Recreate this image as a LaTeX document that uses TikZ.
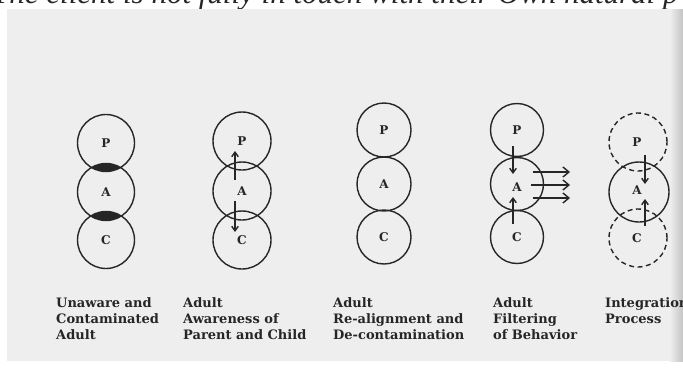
\documentclass[tikz,border=0pt]{standalone}
\usepackage{fontspec}
\setmainfont{DejaVu Serif}
\newfontfamily\topfont{Liberation Serif}
\usetikzlibrary{arrows.meta}
\definecolor{ink}{HTML}{262626}
\definecolor{paper}{HTML}{EEEEEE}
\definecolor{edge}{HTML}{C4C4C4}
\begin{document}
\begin{tikzpicture}[x=1pt,y=-1pt,
  ring/.style={circle,draw=ink,line width=1.4pt,inner sep=0pt,minimum size=#1,
    font=\fontsize{12}{12}\selectfont\bfseries,text=ink},
  ring/.default=57pt,
  dring/.style={ring=#1,dash pattern=on 5pt off 3.5pt},
  dring/.default=57pt,
  letter/.style={inner sep=0pt,font=\fontsize{12}{12}\selectfont\bfseries,text=ink},
  arr/.style={-{Straight Barb[length=4.5pt,width=6.5pt]},line width=1.4pt,draw=ink},
  wide/.style={-{Straight Barb[length=6pt,width=10pt]},line width=1.4pt,draw=ink},
  captext/.style={anchor=north west,inner sep=0pt,align=left,
    font=\fontsize{13}{16.2}\selectfont\bfseries,text=ink}]
% page and scanned sheet
\fill[white] (0,0) rectangle (683,367);
\useasboundingbox (0,0) rectangle (683,367);
\begin{scope}
  \clip (0,0) rectangle (683,9);
  \node[anchor=base west,inner sep=0pt,font=\topfont\itshape\fontsize{31}{31}\selectfont,text=ink]
    (top) at (-8,3) {The client is not fully in touch with their Own natural p};
\end{scope}
\fill[paper] (7,9) rectangle (683,361);
\fill[right color=edge,left color=paper] (670,9) rectangle (683,361);

% column 1: contaminated adult
\coordinate (p1c) at (106,143);
\coordinate (a1c) at (106,192);
\coordinate (c1c) at (106,240);
\begin{scope}
  \clip (p1c) circle (28.5pt);
  \fill[ink] (a1c) circle (28.5pt);
\end{scope}
\begin{scope}
  \clip (a1c) circle (28.5pt);
  \fill[ink] (c1c) circle (28.5pt);
\end{scope}
\node[ring] (p1) at (p1c) {P};
\node[ring] (a1) at (a1c) {A};
\node[ring] (c1) at (c1c) {C};

% column 2: awareness
\node[ring=58pt] (p2) at (242,141) {P};
\node[ring=58pt] (a2) at (242,191) {A};
\node[ring=58pt] (c2) at (242,240) {C};
\coordinate (u2s) at (235,180);
\coordinate (u2e) at (235,151);
\coordinate (d2s) at (235,201);
\coordinate (d2e) at (235,232);
\draw[arr] (u2s) -- (u2e);
\draw[arr] (d2s) -- (d2e);

% column 3: re-alignment
\node[ring=54pt] (p3) at (384,130) {P};
\node[ring=54pt] (a3) at (384,184) {A};
\node[ring=54pt] (c3) at (384,237) {C};

% column 4: filtering
\node[ring=53pt] (p4) at (517,130) {P};
\node[ring=53pt] (a4) at (517,184) {};
\node[ring=53pt] (c4) at (517,237) {C};
\node[letter] (a4t) at (517,187) {A};
\coordinate (d4s) at (513,146);
\coordinate (d4e) at (513,174);
\coordinate (u4s) at (513,224);
\coordinate (u4e) at (513,197);
\draw[arr] (d4s) -- (d4e);
\draw[arr] (u4s) -- (u4e);
\coordinate (r1s) at (533,172); \coordinate (r1e) at (570,172);
\coordinate (r2s) at (531,185); \coordinate (r2e) at (570,185);
\coordinate (r3s) at (533,198); \coordinate (r3e) at (570,198);
\draw[wide] (r1s) -- (r1e);
\draw[wide] (r2s) -- (r2e);
\draw[wide] (r3s) -- (r3e);

% column 5: integration
\node[dring=58pt] (p5) at (638,142) {};
\node[ring=60pt] (a5) at (639,192) {};
\node[dring=58pt] (c5) at (638,238) {};
\node[letter] (p5t) at (637,142) {P};
\node[letter] (a5t) at (637,190) {A};
\node[letter] (c5t) at (637,238) {C};
\coordinate (d5s) at (645,155);
\coordinate (d5e) at (645,184);
\coordinate (u5s) at (645,226);
\coordinate (u5e) at (645,199);
\draw[arr] (d5s) -- (d5e);
\draw[arr] (u5s) -- (u5e);

% captions
\node[captext] (t1) at (56,297) {Unaware and\\Contaminated\\Adult};
\node[captext] (t2) at (183,297) {Adult\\Awareness of\\Parent and Child};
\node[captext] (t3) at (333,297) {Adult\\Re-alignment and\\De-contamination};
\node[captext] (t4) at (493,297) {Adult\\Filtering\\of Behavior};
\node[captext] (t5) at (605,297) {Integration\\Process};
\end{tikzpicture}
\end{document}
